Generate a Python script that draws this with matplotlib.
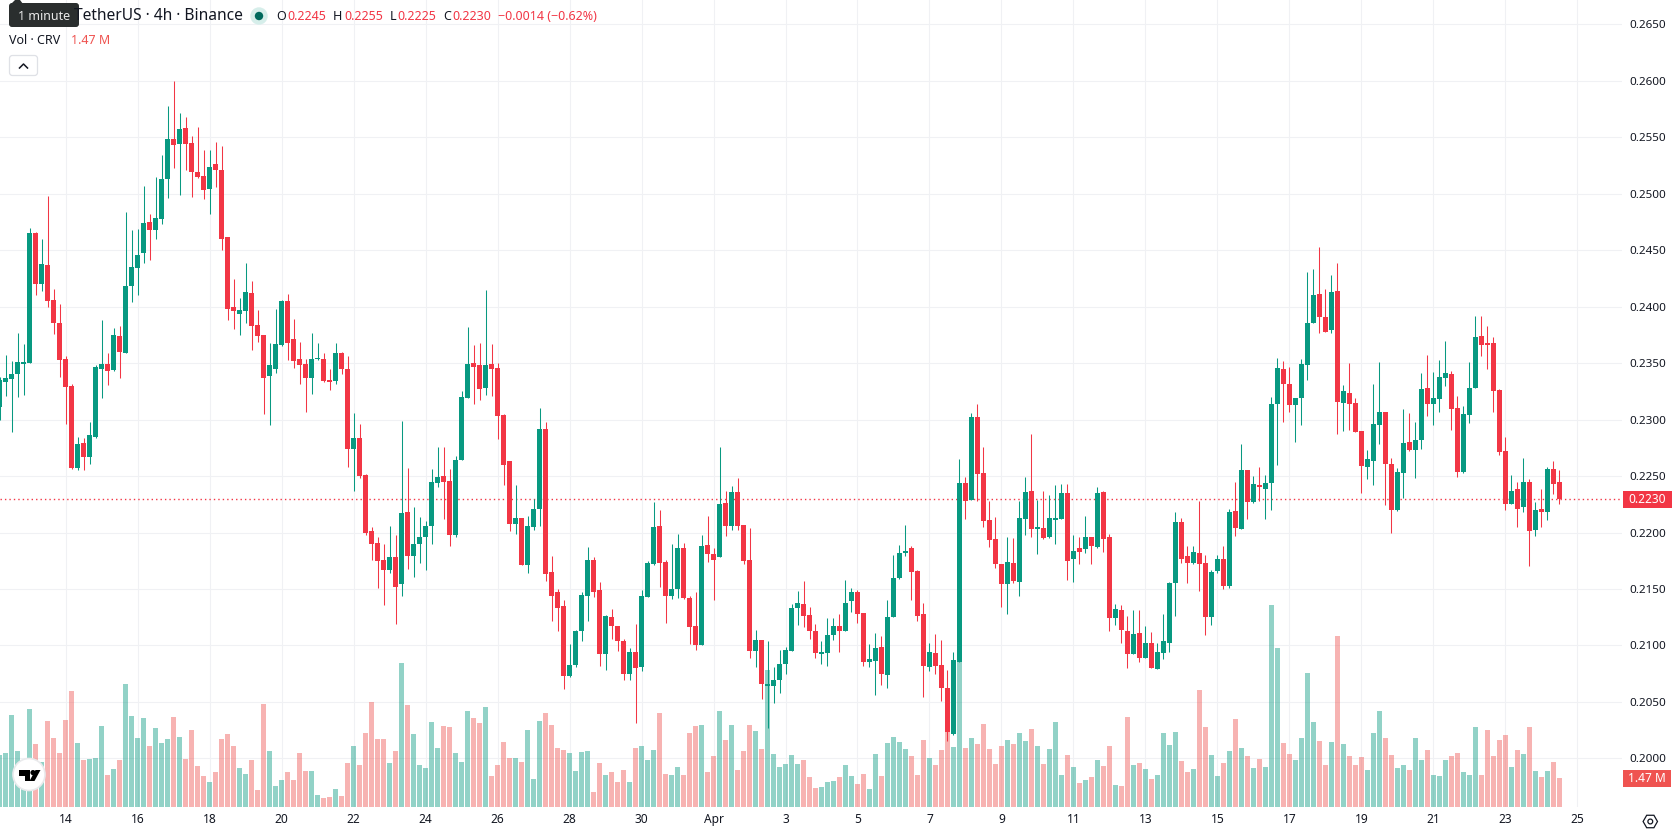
import matplotlib
matplotlib.use("Agg")
import matplotlib.pyplot as plt
from matplotlib.patches import Circle, FancyBboxPatch, Polygon, Rectangle, RegularPolygon
import numpy as np

plt.rcParams['font.family'] = ['Noto Sans', 'DejaVu Sans']

# 4h candles, position 0 is the first candle of 14 March
first_pos = -11

opens = [.2311,.2333,.2336,.2340,.2349,.2350,.2465,.2420,.2437,.2406,
         .2386,.2354,.2330,.2257,.2279,.2267,.2285,.2345,.2349,.2344,
         .2374,.2359,.2418,.2434,.2448,.2475,.2468,.2478,.2513,.2549,
         .2544,.2558,.2545,.2519,.2516,.2504,.2526,.2521,.2462,.2400,
         .2394,.2396,.2412,.2384,.2375,.2339,.2345,.2366,.2405,.2371,
         .2354,.2349,.2337,.2354,.2354,.2335,.2334,.2359,.2345,.2274,
         .2284,.2251,.2201,.2191,.2176,.2167,.2178,.2154,.2218,.2179,
         .2190,.2196,.2206,.2244,.2250,.2246,.2198,.2264,.2319,.2350,
         .2348,.2328,.2349,.2346,.2304,.2263,.2208,.2213,.2171,.2205,
         .2221,.2292,.2165,.2147,.2135,.2073,.2083,.2113,.2144,.2176,
         .2149,.2092,.2125,.2117,.2104,.2075,.2094,.2081,.2143,.2172,
         .2206,.2174,.2144,.2150,.2186,.2142,.2117,.2100,.2189,.2181,
         .2178,.2226,.2206,.2236,.2207,.2176,.2095,.2105,.2064,.2064,
         .2069,.2084,.2095,.2133,.2137,.2127,.2113,.2092,.2093,.2109,
         .2117,.2113,.2139,.2147,.2129,.2085,.2086,.2099,.2074,.2125,
         .2160,.2182,.2186,.2166,.2128,.2081,.2093,.2083,.2062,.2022,
         .2085,.2244,.2229,.2302,.2253,.2211,.2194,.2172,.2154,.2173,
         .2156,.2212,.2237,.2203,.2204,.2196,.2211,.2212,.2235,.2177,
         .2186,.2185,.2196,.2187,.2236,.2196,.2124,.2131,.2113,.2092,
         .2111,.2089,.2102,.2079,.2093,.2102,.2155,.2209,.2179,.2173,
         .2182,.2173,.2125,.2166,.2177,.2153,.2219,.2203,.2255,.2227,
         .2242,.2239,.2244,.2314,.2345,.2332,.2313,.2319,.2348,.2386,
         .2411,.2391,.2379,.2414,.2315,.2324,.2315,.2290,.2258,.2263,
         .2295,.2307,.2261,.2220,.2253,.2280,.2273,.2282,.2328,.2314,
         .2318,.2337,.2340,.2310,.2254,.2304,.2328,.2374,.2368,.2368,
         .2326,.2272,.2225,.2239,.2223,.2245,.2202,.2221,.2218,.2256,.2245]
highs = [.2338,.2357,.2352,.2377,.2367,.2470,.2466,.2460,.2498,.2416,
         .2402,.2356,.2332,.2285,.2284,.2298,.2348,.2388,.2359,.2381,
         .2383,.2484,.2468,.2469,.2507,.2482,.2515,.2534,.2578,.2600,
         .2572,.2568,.2551,.2559,.2539,.2539,.2546,.2542,.2462,.2425,
         .2408,.2439,.2423,.2397,.2375,.2368,.2398,.2406,.2411,.2389,
         .2369,.2354,.2377,.2368,.2359,.2345,.2368,.2360,.2356,.2306,
         .2296,.2252,.2205,.2196,.2190,.2206,.2198,.2299,.2257,.2223,
         .2214,.2210,.2256,.2276,.2276,.2256,.2268,.2325,.2382,.2366,
         .2368,.2415,.2367,.2350,.2305,.2263,.2242,.2213,.2215,.2230,
         .2310,.2298,.2179,.2150,.2140,.2101,.2114,.2147,.2187,.2178,
         .2156,.2127,.2132,.2117,.2106,.2098,.2119,.2149,.2175,.2227,
         .2220,.2176,.2190,.2199,.2191,.2144,.2147,.2198,.2215,.2186,
         .2276,.2237,.2241,.2248,.2207,.2204,.2114,.2105,.2104,.2081,
         .2096,.2099,.2137,.2148,.2157,.2134,.2119,.2104,.2124,.2124,
         .2128,.2158,.2151,.2149,.2129,.2101,.2111,.2108,.2140,.2180,
         .2189,.2207,.2188,.2167,.2138,.2102,.2110,.2105,.2078,.2094,
         .2265,.2249,.2306,.2314,.2276,.2228,.2214,.2172,.2196,.2195,
         .2228,.2249,.2287,.2229,.2237,.2233,.2242,.2243,.2243,.2198,
         .2196,.2215,.2196,.2240,.2237,.2199,.2137,.2136,.2126,.2131,
         .2131,.2117,.2112,.2102,.2128,.2156,.2218,.2213,.2188,.2188,
         .2228,.2180,.2167,.2180,.2188,.2221,.2245,.2278,.2255,.2250,
         .2258,.2251,.2320,.2355,.2352,.2347,.2319,.2354,.2431,.2433,
         .2453,.2416,.2428,.2439,.2331,.2350,.2319,.2290,.2273,.2332,
         .2351,.2307,.2266,.2257,.2309,.2306,.2298,.2341,.2357,.2342,
         .2353,.2370,.2343,.2321,.2312,.2351,.2392,.2392,.2383,.2373,
         .2327,.2285,.2251,.2245,.2266,.2247,.2227,.2239,.2258,.2263,.2255]
lows = [.2300,.2321,.2289,.2320,.2322,.2350,.2410,.2414,.2400,.2376,
        .2338,.2296,.2256,.2255,.2255,.2261,.2284,.2319,.2331,.2343,
        .2337,.2359,.2404,.2410,.2439,.2441,.2460,.2473,.2496,.2523,
        .2499,.2521,.2497,.2514,.2495,.2482,.2506,.2450,.2388,.2380,
        .2375,.2386,.2362,.2369,.2305,.2295,.2341,.2365,.2353,.2346,
        .2332,.2307,.2323,.2353,.2333,.2326,.2332,.2340,.2258,.2237,
        .2248,.2198,.2176,.2151,.2136,.2164,.2119,.2144,.2168,.2161,
        .2173,.2167,.2190,.2240,.2212,.2188,.2196,.2264,.2319,.2314,
        .2317,.2322,.2321,.2283,.2242,.2201,.2199,.2171,.2164,.2202,
        .2206,.2157,.2122,.2113,.2061,.2072,.2081,.2104,.2122,.2143,
        .2082,.2078,.2106,.2095,.2069,.2069,.2031,.2077,.2143,.2171,
        .2152,.2120,.2141,.2142,.2141,.2101,.2096,.2100,.2174,.2140,
        .2178,.2197,.2202,.2202,.2172,.2089,.2081,.2053,.2027,.2049,
        .2058,.2075,.2095,.2118,.2116,.2106,.2089,.2084,.2082,.2105,
        .2094,.2113,.2130,.2120,.2082,.2081,.2056,.2065,.2062,.2125,
        .2159,.2179,.2140,.2122,.2054,.2077,.2075,.2051,.2015,.2021,
        .2085,.2212,.2229,.2228,.2205,.2187,.2169,.2134,.2128,.2155,
        .2144,.2198,.2196,.2181,.2194,.2195,.2190,.2212,.2158,.2156,
        .2172,.2182,.2172,.2186,.2183,.2113,.2118,.2102,.2080,.2092,
        .2085,.2089,.2080,.2079,.2088,.2094,.2126,.2173,.2155,.2172,
        .2148,.2109,.2118,.2164,.2150,.2151,.2197,.2203,.2212,.2226,
        .2228,.2212,.2220,.2260,.2298,.2307,.2280,.2295,.2335,.2386,
        .2377,.2378,.2377,.2287,.2290,.2291,.2289,.2235,.2247,.2242,
        .2278,.2224,.2200,.2219,.2231,.2272,.2248,.2274,.2303,.2295,
        .2307,.2330,.2291,.2249,.2253,.2297,.2328,.2356,.2345,.2307,
        .2269,.2220,.2225,.2205,.2218,.2170,.2197,.2205,.2211,.2234,.2225]
closes = [.2335,.2337,.2340,.2351,.2351,.2465,.2420,.2438,.2405,.2386,
          .2353,.2329,.2257,.2278,.2267,.2286,.2347,.2349,.2343,.2375,
          .2360,.2418,.2435,.2446,.2474,.2468,.2479,.2513,.2549,.2543,
          .2557,.2544,.2519,.2515,.2503,.2524,.2521,.2460,.2398,.2396,
          .2397,.2413,.2383,.2374,.2337,.2348,.2367,.2405,.2368,.2352,
          .2348,.2337,.2354,.2355,.2334,.2333,.2359,.2345,.2274,.2284,
          .2250,.2200,.2190,.2175,.2167,.2178,.2152,.2217,.2179,.2190,
          .2196,.2206,.2245,.2249,.2245,.2198,.2264,.2320,.2349,.2347,
          .2327,.2348,.2345,.2303,.2260,.2208,.2213,.2171,.2206,.2221,
          .2292,.2163,.2144,.2133,.2073,.2083,.2113,.2145,.2176,.2147,
          .2092,.2126,.2117,.2104,.2075,.2094,.2080,.2144,.2173,.2205,
          .2173,.2144,.2150,.2186,.2142,.2116,.2100,.2188,.2181,.2176,
          .2225,.2206,.2236,.2206,.2175,.2095,.2105,.2066,.2066,.2069,
          .2084,.2096,.2133,.2138,.2126,.2113,.2093,.2094,.2109,.2117,
          .2113,.2138,.2147,.2128,.2085,.2088,.2098,.2075,.2125,.2160,
          .2182,.2184,.2165,.2126,.2082,.2094,.2082,.2062,.2023,.2087,
          .2244,.2228,.2302,.2252,.2210,.2193,.2172,.2154,.2174,.2157,
          .2213,.2236,.2203,.2205,.2195,.2213,.2213,.2235,.2175,.2184,
          .2183,.2196,.2188,.2235,.2194,.2124,.2132,.2114,.2092,.2110,
          .2089,.2102,.2080,.2094,.2104,.2155,.2209,.2177,.2173,.2183,
          .2172,.2125,.2165,.2177,.2153,.2218,.2204,.2255,.2227,.2243,
          .2240,.2244,.2314,.2346,.2332,.2313,.2319,.2349,.2386,.2410,
          .2391,.2378,.2413,.2316,.2325,.2314,.2289,.2259,.2265,.2296,
          .2307,.2261,.2220,.2254,.2279,.2273,.2282,.2327,.2314,.2319,
          .2338,.2341,.2309,.2254,.2305,.2328,.2373,.2366,.2366,.2325,
          .2271,.2225,.2237,.2221,.2245,.2201,.2220,.2218,.2256,.2243,.2230]
# volume in millions
volume = [2.65,2.75,4.70,2.86,2.39,5.01,3.21,2.29,4.39,3.52,2.75,4.45,5.93,3.27,2.39,2.45,2.50,4.14,1.62,1.93,
          2.39,6.29,4.65,3.52,4.55,3.11,4.04,3.27,3.47,4.60,3.57,2.45,3.93,2.09,1.57,1.27,1.78,3.47,3.73,3.11,
          1.98,1.68,2.39,0.86,5.27,2.86,1.06,1.37,1.78,1.37,2.75,1.83,1.83,0.60,0.44,0.50,0.91,0.55,2.24,3.11,
          2.14,3.78,5.37,3.47,3.47,2.24,2.86,7.37,5.22,3.73,2.14,1.98,4.34,3.01,4.14,4.09,2.75,2.29,4.91,4.55,
          4.29,5.11,1.57,2.14,3.32,2.50,2.50,2.29,3.93,1.42,4.39,
          4.81,4.19,3.01,2.91,2.75,1.83,2.80,2.86,0.75,2.24,1.62,1.78,1.27,1.88,1.27,3.03,3.11,2.39,2.91,4.81,
          1.68,1.62,2.03,1.62,3.78,4.14,4.19,1.78,2.60,4.91,3.42,4.19,1.88,2.86,4.19,3.88,2.96,7.01,2.70,2.03,
          2.19,2.65,2.19,2.39,1.52,0.96,1.01,1.27,1.32,1.52,2.14,1.57,1.16,1.68,0.91,2.70,1.57,3.27,3.57,3.32,
          2.96,2.60,1.62,3.42,2.50,2.14,2.91,3.83,3.06,7.42,3.01,3.52,3.21,4.24,2.96,2.19,3.11,3.42,3.21,3.78,
          3.37,3.98,3.11,2.19,2.96,4.34,1.62,2.65,2.03,1.21,
          1.37,1.52,2.39,2.09,3.11,1.11,1.06,4.60,2.14,2.24,1.93,1.42,1.62,3.78,3.16,3.83,2.34,1.78,1.93,5.99,
          4.09,2.65,1.57,2.24,2.86,4.50,3.01,2.60,1.98,2.45,2.03,10.35,8.14,3.27,2.70,2.39,3.52,6.86,4.34,3.37,
          2.14,3.32,8.76,3.21,2.60,2.14,2.55,1.88,3.78,4.91,3.52,2.65,1.98,2.14,1.88,3.52,2.39,2.91,1.62,1.57,
          2.39,2.60,2.75,1.78,1.62,4.09,1.62,3.93,2.60,3.42,3.68,2.03,2.91,2.70,4.09,1.83,1.52,1.83,2.29,1.47]

day_labels = ['14','16','18','20','22','24','26','28','30','Apr','3','5','7','9','11','13','15','17','19','21','23','25']
day_positions = [0,12,24,36,48,60,72,84,96,108,120,132,144,156,168,180,192,204,216,228,240,252]
price_ticks = [.2000,.2050,.2100,.2150,.2200,.2250,.2300,.2350,.2400,.2450,.2500,.2550,.2600,.2650]
last_price = 0.2230
last_volume = '1.47 M'

GREEN = '#089981'
RED = '#f23645'
TEXT = '#131722'
W, H = 1678, 835
PANE_W, PANE_H = 1622, 807

fig = plt.figure(figsize=(W / 100, H / 100), dpi=100, facecolor='white')
rect = [0, (H - PANE_H) / H, PANE_W / W, PANE_H / H]

x = np.arange(first_pos, first_pos + len(closes))
o, h, l, c = map(np.array, (opens, highs, lows, closes))
colors = [GREEN if b >= a else RED for a, b in zip(o, c)]
vol_colors = [GREEN if b >= a else '#ef5350' for a, b in zip(o, c)]

# price axis carries the grid and the tick labels
ax = fig.add_axes(rect)
ax.set_xlim(-10.92, 259.42)
ax.set_ylim(0.19569, 0.26717)

# volume sits under the candles in its own scale
vol = ax.twinx()
vol.set_ylim(0, 41.38)
vol.axis('off')
vol.bar(x, volume, width=0.84, color=vol_colors, alpha=0.44, lw=0)

can = ax.twinx()
can.set_ylim(ax.get_ylim())
can.axis('off')
can.axhline(last_price, color=RED, lw=1.0, ls=(0, (1, 2.2)), zorder=1)
can.vlines(x, l, h, colors=colors, lw=0.75, zorder=2)
can.bar(x, np.maximum(np.abs(c - o), 0.0001), bottom=np.minimum(o, c), width=0.86, color=colors, lw=0, zorder=3)

# twinx moves the ticks to the left, so set them up afterwards
ax.yaxis.tick_right()
ax.set_xticks(day_positions)
ax.set_xticklabels(day_labels, fontsize=8.6, color=TEXT)
ax.get_xticklabels()[day_labels.index('Apr')].set_fontweight('bold')
ax.set_yticks(price_ticks)
ax.set_yticklabels(['%.4f' % p for p in price_ticks], fontsize=8.4, color=TEXT)
ax.tick_params(axis='x', length=0, pad=4)
ax.tick_params(axis='y', length=0, pad=5.5)
ax.grid(True, color='#f0f1f4', lw=0.75)
ax.set_axisbelow(True)
for axis in (ax, vol, can):
    for s in axis.spines.values():
        s.set_visible(False)

# chart furniture in figure pixels
ov = fig.add_axes([0, 0, 1, 1])
ov.set_xlim(0, W)
ov.set_ylim(H, 0)
ov.axis('off')
ov.patch.set_alpha(0)

ov.add_patch(Rectangle((1623, 491), 49, 16.7, color=RED, lw=0))
ov.text(1647.5, 499.6, '%.4f' % last_price, color='white', fontsize=8.6, ha='center', va='center')
ov.add_patch(Rectangle((1623, 770), 48, 16.7, color='#ef5350', lw=0))
ov.text(1647, 778.6, last_volume, color='white', fontsize=8.6, ha='center', va='center')

# legend row
ov.text(74, 16, 'TetherUS · 4h · Binance', fontsize=11.2, color=TEXT, va='center')
ov.add_patch(Circle((259, 16), 8.7, color='#d6eeea', lw=0))
ov.add_patch(Circle((259, 16), 4.2, color='#00695c', lw=0))
ohlc_labels = ['O', 'H', 'L', 'C']
ohlc_values = ['0.2245', '0.2255', '0.2225', '0.2230']
ohlc_px = [276, 333, 390, 443.5]
ohlc_val_px = [287.3, 344, 397, 452.3]
for label, val, px, vx in zip(ohlc_labels, ohlc_values, ohlc_px, ohlc_val_px):
    ov.text(px, 16, label, fontsize=9, color=TEXT, va='center')
    ov.text(vx, 16, val, fontsize=9, color=RED, va='center')
ov.text(498.3, 16, '−0.0014 (−0.62%)', fontsize=9, color=RED, va='center')
ov.text(9, 40.5, 'Vol · CRV', fontsize=9, color=TEXT, va='center')
ov.text(71, 40.5, '1.47 M', fontsize=9, color='#ef5350', va='center')

# tooltip over the symbol name
ov.add_patch(FancyBboxPatch((11, 5), 66, 20, boxstyle='round,pad=2,rounding_size=3', fc='#2a2e2e', ec='none'))
ov.add_patch(Polygon([[11, 4], [15, 0], [20, 0], [23, 4]], closed=True, fc='#2a2e2e', ec='none'))
ov.text(44, 16, '1 minute', fontsize=9, color='#e8e8e8', ha='center', va='center')

# collapse button
ov.add_patch(FancyBboxPatch((11, 57), 25, 17, boxstyle='round,pad=1.5,rounding_size=3', fc='white', ec='#dfe1e6', lw=0.9))
ov.plot([19.5, 23.5, 27.5], [68, 64, 68], color=TEXT, lw=1.1)

# logo badge
ov.add_patch(Circle((29, 774.5), 16, fc='white', ec='#e9eaec', lw=1.2))
ov.add_patch(Polygon([[18.5, 770], [30, 770], [30, 781], [24.5, 781], [24.5, 775.7], [18.5, 775.7]], closed=True, fc='black', ec='none'))
ov.add_patch(Circle((33, 772.6), 2.6, fc='black', ec='none'))
ov.add_patch(Polygon([[35.5, 770], [40.5, 770], [34.5, 781], [29.5, 781]], closed=True, fc='black', ec='none'))

# settings icon
ov.add_patch(RegularPolygon((1650.3, 821.5), 6, radius=7.2, orientation=np.pi / 2, fc='none', ec=TEXT, lw=0.9))
ov.add_patch(Circle((1650.3, 821.5), 2.4, fc='none', ec=TEXT, lw=0.9))

fig.savefig('out.png', dpi=100)
